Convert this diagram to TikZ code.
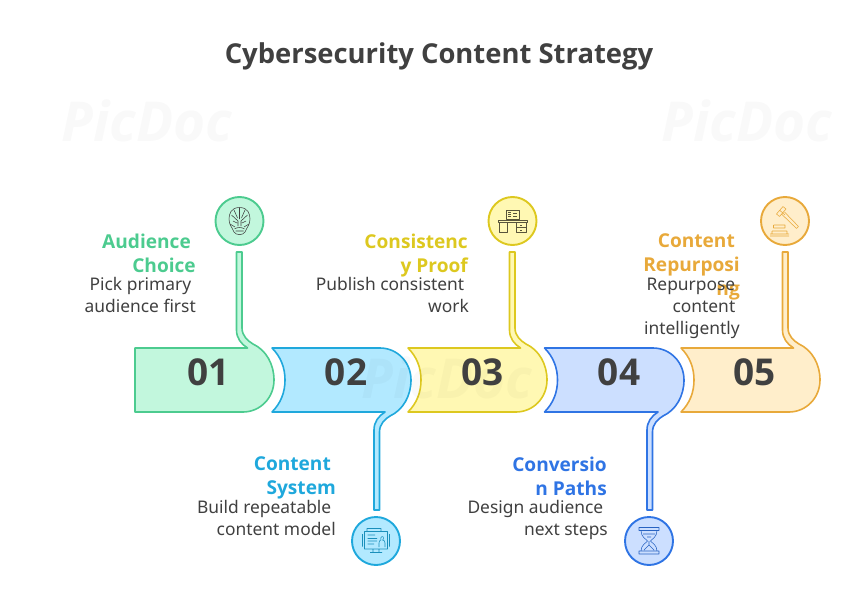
\documentclass[tikz,border=0pt]{standalone}
\usepackage{fontspec}
\setmainfont{Noto Sans}
\newfontfamily\headfont{Open Sans}
\definecolor{inkgray}{HTML}{404040}
\definecolor{greenline}{HTML}{4CCB8F}
\definecolor{greenfill}{HTML}{C2F7DD}
\definecolor{blueline}{HTML}{1FA8DC}
\definecolor{bluefill}{HTML}{B2E9FF}
\definecolor{yellowline}{HTML}{DDC81F}
\definecolor{yellowfill}{HTML}{FFF8B3}
\definecolor{indigoline}{HTML}{2F74E4}
\definecolor{indigofill}{HTML}{CCDFFF}
\definecolor{orangeline}{HTML}{E8A93A}
\definecolor{orangefill}{HTML}{FFEECB}
\tikzset{
  bandline/.style={line width=1.6pt,line join=round},
  iconring/.style={circle,minimum size=48pt,inner sep=0pt,line width=1.9pt},
  numlabel/.style={font=\headfont\fontsize{37}{37}\selectfont\bfseries,text=inkgray,inner sep=0pt},
  headlabel/.style={font=\headfont\fontsize{19.1}{24}\selectfont\bfseries,align=right,anchor=north east,inner sep=0pt},
  bodylabel/.style={font=\fontsize{17.4}{22}\selectfont,text=inkgray,align=right,anchor=north east,inner sep=0pt},
  markmask/.style={font=\headfont\fontsize{55}{55}\selectfont\bfseries\itshape,text=black,text opacity=0.025,inner sep=0pt},
  iconline/.style={line width=0.55pt,line join=round}
}
\begin{document}
\begin{tikzpicture}[x=1pt,y=-1pt]
\useasboundingbox (0,0) rectangle (860,605);
% watermark
\node[markmask] (markleft) at (147,121) {PicDoc};
\node[markmask] (markright) at (747,121) {PicDoc};
% title
\node[font=\headfont\fontsize{27.4}{30}\selectfont\bfseries,text=inkgray,inner sep=0pt] (title) at (439,56) {Cybersecurity Content Strategy};
% bands
\draw[bandline,draw=greenline,fill=greenfill] (135,348) -- (247.5,348) .. controls (241,344) and (236.5,338) .. (236.5,330) -- (236.5,252) -- (242,252) -- (242,328) .. controls (242,336) and (248,341) .. (253,344) .. controls (266,350) and (274,364) .. (274,380) .. controls (274,398) and (260,412) .. (243,412) -- (135,412) -- cycle;
\draw[bandline,draw=blueline,fill=bluefill] (272,348) -- (380,348) .. controls (397,348) and (411,362) .. (411,380) .. controls (411,396) and (403,410) .. (390,416) .. controls (385,419) and (379.5,424) .. (379.5,432) -- (379.5,510) -- (374,510) -- (374,430) .. controls (374,422) and (378.5,416) .. (385,412) -- (272,412) .. controls (281,403) and (285,392) .. (285,380) .. controls (285,368) and (281,357) .. (272,348) -- cycle;
\draw[bandline,draw=yellowline,fill=yellowfill] (408,348) -- (520.5,348) .. controls (514,344) and (509.5,338) .. (509.5,330) -- (509.5,252) -- (515,252) -- (515,328) .. controls (515,336) and (521,341) .. (526,344) .. controls (539,350) and (547,364) .. (547,380) .. controls (547,398) and (533,412) .. (516,412) -- (408,412) .. controls (417,403) and (421,392) .. (421,380) .. controls (421,368) and (417,357) .. (408,348) -- cycle;
\draw[bandline,draw=indigoline,fill=indigofill] (544.5,348) -- (653,348) .. controls (670,348) and (684,362) .. (684,380) .. controls (684,396) and (676,410) .. (663,416) .. controls (658,419) and (652.5,424) .. (652.5,432) -- (652.5,510) -- (647,510) -- (647,430) .. controls (647,422) and (651.5,416) .. (658,412) -- (544.5,412) .. controls (553.5,403) and (557.5,392) .. (557.5,380) .. controls (557.5,368) and (553.5,357) .. (544.5,348) -- cycle;
\draw[bandline,draw=orangeline,fill=orangefill] (681,348) -- (793.5,348) .. controls (787,344) and (782.5,338) .. (782.5,330) -- (782.5,252) -- (788,252) -- (788,328) .. controls (788,336) and (794,341) .. (799,344) .. controls (812,350) and (820,364) .. (820,380) .. controls (820,398) and (806,412) .. (789,412) -- (681,412) .. controls (690,403) and (694,392) .. (694,380) .. controls (694,368) and (690,357) .. (681,348) -- cycle;
\node[markmask] (markmid) at (447,378) {PicDoc};
% numbers
\node[numlabel] (numa) at (208.5,372.5) {01};
\node[numlabel] (numb) at (346,372.5) {02};
\node[numlabel] (numc) at (482.5,372.5) {03};
\node[numlabel] (numd) at (619,372.5) {04};
\node[numlabel] (nume) at (754.5,372.5) {05};
% rings
\node[iconring,draw=greenline,fill=greenfill] (ringa) at (239.5,221) {};
\node[iconring,draw=blueline,fill=bluefill] (ringb) at (376,541) {};
\node[iconring,draw=yellowline,fill=yellowfill] (ringc) at (512.5,221) {};
\node[iconring,draw=indigoline,fill=indigofill] (ringd) at (649,541) {};
\node[iconring,draw=orangeline,fill=orangefill] (ringe) at (785,221) {};
% mask
\draw[iconline,draw=inkgray] (239.5,207.5) .. controls (231,207.5) and (229,214) .. (229,219) .. controls (229,225) and (232,227) .. (234,232) .. controls (236,235.5) and (243,235.5) .. (245,232) .. controls (247,227) and (250,225) .. (250,219) .. controls (250,214) and (248,207.5) .. (239.5,207.5) -- cycle;
\draw[iconline,draw=inkgray] (231.5,215) -- (238,221) -- (238,226) (247.5,215) -- (241,221) -- (241,226) (233,221) -- (237,223) (246,221) -- (242,223) (239.5,208) -- (239.5,219) (234,210) -- (237.5,218) (245,210) -- (241.5,218) (234.5,229) .. controls (237,227) and (242,227) .. (244.5,229) (235.5,231) -- (243.5,231) (230,224) -- (235,227) (249,224) -- (244,227);
% desk
\draw[iconline,draw=inkgray!85!yellowline] (506,210.5) rectangle (519,219) (508,212.5) -- (511,212.5) (508,214.5) -- (511,214.5) (508,216.5) -- (511,216.5) (513,213) -- (517,213) (513,216) -- (517,216) (498.5,220.5) rectangle (527,222.5) (499.5,222.5) rectangle (507,232.5) (516,222.5) rectangle (526,232.5) (516,227.5) -- (526,227.5) (520,225) -- (522,225) (520,230) -- (522,230);
% monitor
\draw[iconline,draw=blueline!85!black] (364.5,531.5) rectangle (387.5,549) (367,528.5) rectangle (381,531.5) (362.5,534) -- (362.5,546.5) (389.5,534) -- (389.5,546.5) (373,549) -- (373,552) (379,549) -- (379,552) (370,552.5) -- (382,552.5) (367.5,535) -- (375,535) (367.5,538.5) -- (377,538.5) (367.5,541) -- (377,541) (367.5,544) -- (374,544) (379,547) -- (379,543) .. controls (379,541) and (380,540) .. (381,540) .. controls (379.5,537) and (383.5,535) .. (383.5,538) .. controls (383.5,539) and (383,540) .. (382.5,540) .. controls (384,540) and (385,541) .. (385,543) -- (385,547);
% hourglass
\draw[iconline,draw=indigoline!85!black] (639,527.5) rectangle (659,530.5) (639,551) rectangle (659,554) (641,530.5) .. controls (641,537) and (646,539) .. (647.5,541) .. controls (646,543) and (641,545) .. (641,551) (657,530.5) .. controls (657,537) and (652,539) .. (650.5,541) .. controls (652,543) and (657,545) .. (657,551) (643,534) -- (655,534) (649,541) -- (649,545) (644,550) -- (649,545) -- (654,550) (647,537) -- (651,537);
% gavel
\draw[iconline,draw=orangeline] (776.5,214) -- (783,206.5) -- (786,209) -- (779.5,216.5) -- cycle (780,210.5) -- (785,215) (784.5,212) -- (798.5,226.5) -- (796.5,228.5) -- (782,214.5) (773.5,228) -- (785,228) (772,231) -- (787,231) (770,234) -- (789,234) (770,236) -- (789,236) (773.5,225) -- (785,225) -- (785,228) (773.5,225) -- (773.5,228) (772,231) -- (772,234) (787,231) -- (787,234);
% labels
\node[headlabel,text=greenline] (heada) at (196,233.5) {Audience~\mbox{}\\Choice};
\node[bodylabel] (bodya) at (196,277.5) {Pick primary~\mbox{}\\audience first};
\node[headlabel,text=blueline] (headb) at (336,456.5) {Content~\mbox{}\\System};
\node[bodylabel] (bodyb) at (336,500) {Build repeatable~\mbox{}\\content model};
\node[headlabel,text=yellowline] (headc) at (468,233.5) {Consistenc\\y Proof};
\node[bodylabel] (bodyc) at (469,277.5) {Publish consistent~\mbox{}\\work};
\node[headlabel,text=indigoline] (headd) at (607,456.5) {Conversio\\n Paths};
\node[bodylabel] (bodyd) at (608,500) {Design audience~\mbox{}\\next steps};
\node[headlabel,text=orangeline] (heade) at (740,233.5) {Content~\mbox{}\\Repurposi\\ng};
\node[bodylabel] (bodye) at (740,277.5) {Repurpose~\mbox{}\\content~\mbox{}\\intelligently};
\end{tikzpicture}
\end{document}
